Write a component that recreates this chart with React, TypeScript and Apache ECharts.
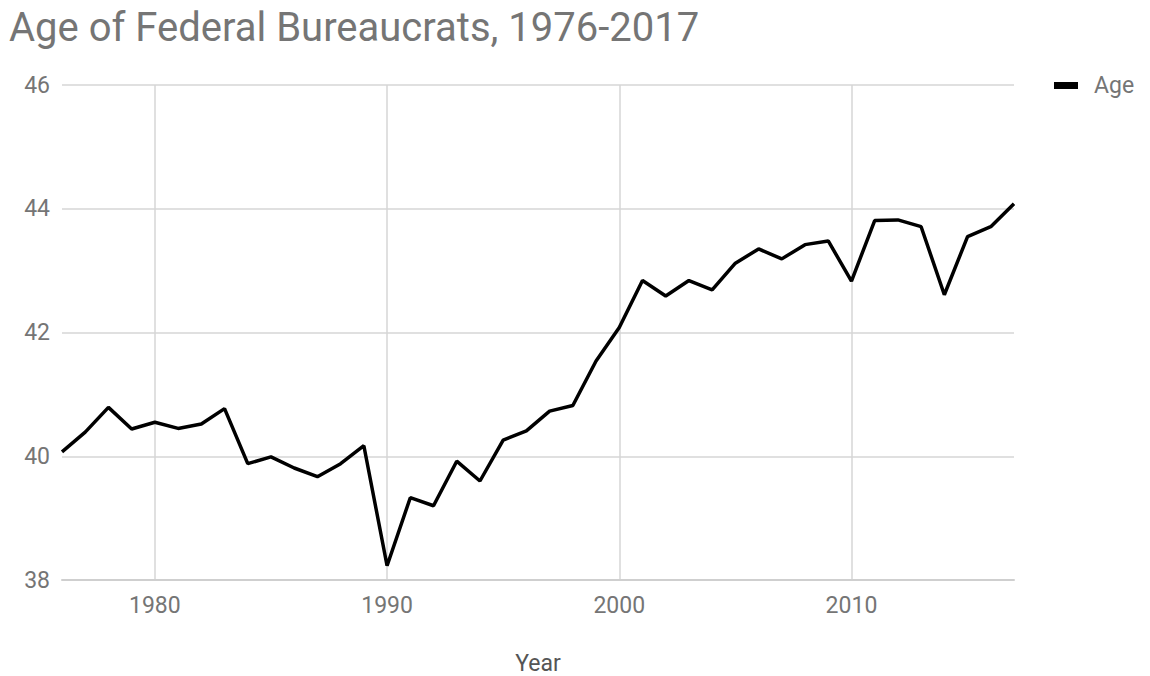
import React, { useEffect, useRef } from "react";
import * as echarts from "echarts";

// Median age of federal employees by year
const years: string[] = [
  "1976", "1977", "1978", "1979", "1980", "1981", "1982", "1983", "1984", "1985",
  "1986", "1987", "1988", "1989", "1990", "1991", "1992", "1993", "1994", "1995",
  "1996", "1997", "1998", "1999", "2000", "2001", "2002", "2003", "2004", "2005",
  "2006", "2007", "2008", "2009", "2010", "2011", "2012", "2013", "2014", "2015",
  "2016", "2017",
];

const ages: number[] = [
  40.07, 40.39, 40.79, 40.44, 40.55, 40.45, 40.52, 40.77, 39.88, 39.99,
  39.81, 39.67, 39.88, 40.17, 38.23, 39.33, 39.2, 39.92, 39.6, 40.26,
  40.41, 40.73, 40.82, 41.54, 42.08, 42.84, 42.59, 42.84, 42.69, 43.12,
  43.35, 43.19, 43.42, 43.48, 42.83, 43.81, 43.82, 43.71, 42.61, 43.55,
  43.71, 44.08,
];

const yTicks = { min: 38, max: 46, step: 2 };

const FONT = "Roboto, 'Noto Sans', sans-serif";
const GREY = "#757575";

export default function App() {
  const ref = useRef<HTMLDivElement>(null);

  useEffect(() => {
    if (!ref.current) return;
    const chart = echarts.init(ref.current, undefined, { renderer: "svg" });
    const isDecade = (_i: number, v: string) => Number(v) % 10 === 0;
    chart.setOption({
      animation: false,
      backgroundColor: "#ffffff",
      textStyle: { fontFamily: FONT },
      title: {
        text: "Age of Federal Bureaucrats, 1976-2017",
        left: 4,
        top: 2,
        textStyle: { fontFamily: FONT, fontSize: 40, fontWeight: "normal", color: GREY },
      },
      legend: {
        left: 1049,
        top: 69,
        icon: "rect",
        itemWidth: 24,
        itemHeight: 7,
        itemGap: 10,
        textStyle: { fontFamily: FONT, fontSize: 23, color: GREY, padding: [0, 0, 0, 11] },
        data: ["Age"],
      },
      grid: { left: 62, right: 136, top: 85, bottom: 96, outerBoundsMode: "none" },
      xAxis: {
        type: "category",
        data: years,
        boundaryGap: false,
        name: "Year",
        nameLocation: "middle",
        nameGap: 72,
        nameTextStyle: { fontFamily: FONT, fontSize: 23, color: "#555555" },
        axisLine: { show: true, lineStyle: { color: "#cfcfcf", width: 2 } },
        axisTick: { show: false },
        axisLabel: {
          interval: isDecade,
          margin: 14,
          fontFamily: FONT,
          fontSize: 23,
          color: GREY,
        },
        splitLine: {
          show: true,
          interval: isDecade,
          lineStyle: { color: "#d6d6d6", width: 1.5 },
        },
      },
      yAxis: {
        type: "value",
        min: yTicks.min,
        max: yTicks.max,
        interval: yTicks.step,
        axisLine: { show: false },
        axisTick: { show: false },
        axisLabel: { margin: 12, fontFamily: FONT, fontSize: 23, color: GREY },
        splitLine: { lineStyle: { color: "#d6d6d6", width: 1.5 } },
      },
      series: [
        {
          name: "Age",
          type: "line",
          data: ages,
          showSymbol: false,
          symbol: "none",
          color: "#000000",
          lineStyle: { color: "#000000", width: 3.5 },
        },
      ],
    });
    return () => chart.dispose();
  }, []);

  return (
    <div
      ref={ref}
      style={{ position: "fixed", left: 0, top: 0, width: 1150, height: 676 }}
    />
  );
}
